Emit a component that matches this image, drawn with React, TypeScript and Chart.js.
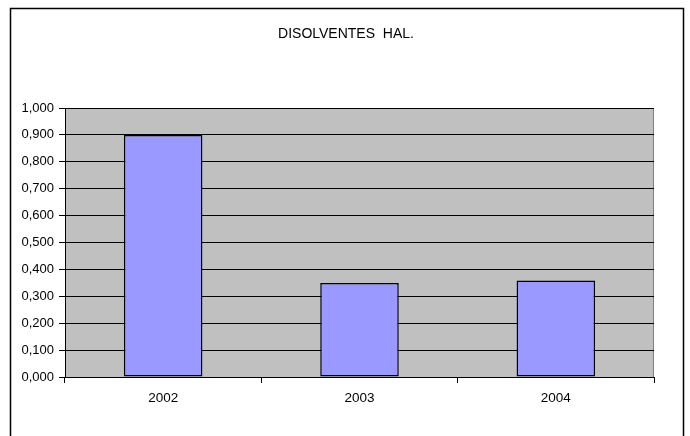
import React, { useEffect, useRef } from "react";
import { Chart, registerables } from "chart.js";

Chart.register(...registerables);

const categories = ["2002", "2003", "2004"];
const values = [0.9, 0.349, 0.359];
const chartTitle = "DISOLVENTES  HAL.";

const FONT = "'Liberation Sans', Arial, sans-serif";

const decor = {
  id: "decor",
  beforeDraw(chart: any) {
    const { ctx, chartArea } = chart;
    ctx.save();
    ctx.fillStyle = "#ffffff";
    ctx.fillRect(0, 0, chart.width, chart.height);
    ctx.fillStyle = "#C0C0C0";
    ctx.fillRect(chartArea.left, chartArea.top, chartArea.right - chartArea.left, chartArea.bottom - chartArea.top);
    ctx.strokeStyle = "#808080";
    ctx.lineWidth = 1;
    ctx.beginPath();
    ctx.moveTo(chartArea.right - 0.5, chartArea.top);
    ctx.lineTo(chartArea.right - 0.5, chartArea.bottom);
    ctx.stroke();
    ctx.restore();
  },
  afterDraw(chart: any) {
    const { ctx } = chart;
    ctx.save();
    ctx.strokeStyle = "#000000";
    ctx.lineWidth = 1.5;
    ctx.strokeRect(10.5, 8.5, 673, 520);
    ctx.fillStyle = "#000000";
    ctx.font = `14px ${FONT}`;
    ctx.textAlign = "center";
    ctx.textBaseline = "middle";
    ctx.fillText(chartTitle, 346, 34);
    ctx.restore();
  },
};

export default function App() {
  const ref = useRef<HTMLCanvasElement>(null);
  useEffect(() => {
    document.body.style.margin = "0";
    const chart = new Chart(ref.current!, {
      type: "bar",
      data: {
        labels: categories,
        datasets: [
          {
            data: values,
            backgroundColor: "#9999FF",
            borderColor: "#000000",
            borderWidth: 1.5,
            borderSkipped: false,
            categoryPercentage: 1,
            barPercentage: 0.4,
          },
        ],
      },
      options: {
        animation: false,
        responsive: false,
        devicePixelRatio: 1,
        layout: { padding: { left: 0, top: 108, right: 36, bottom: 0 } },
        plugins: { legend: { display: false }, title: { display: false }, tooltip: { enabled: false } },
        scales: {
          x: {
            grid: { display: true, drawOnChartArea: false, drawTicks: true, tickLength: 6, color: "#000000", offset: true },
            border: { display: true, color: "#000000", width: 1 },
            ticks: { color: "#000000", font: { family: FONT, size: 13.5 }, padding: 7, maxRotation: 0 },
            afterFit(scale: any) {
              scale.height = 59;
            },
          },
          y: {
            min: 0,
            max: 1,
            grid: { color: "#000000", lineWidth: 1, drawTicks: true, tickLength: 6, tickColor: "#000000" },
            border: { display: true, color: "#000000", width: 1 },
            ticks: {
              stepSize: 0.1,
              color: "#000000",
              font: { family: FONT, size: 13 },
              padding: 5,
              callback: (v: any) => Number(v).toFixed(3).replace(".", ","),
            },
            afterFit(scale: any) {
              scale.width = 65;
            },
          },
        },
      },
      plugins: [decor],
    });
    return () => chart.destroy();
  }, []);
  return <canvas ref={ref} width={690} height={436} style={{ display: "block", width: 690, height: 436 }} />;
}
